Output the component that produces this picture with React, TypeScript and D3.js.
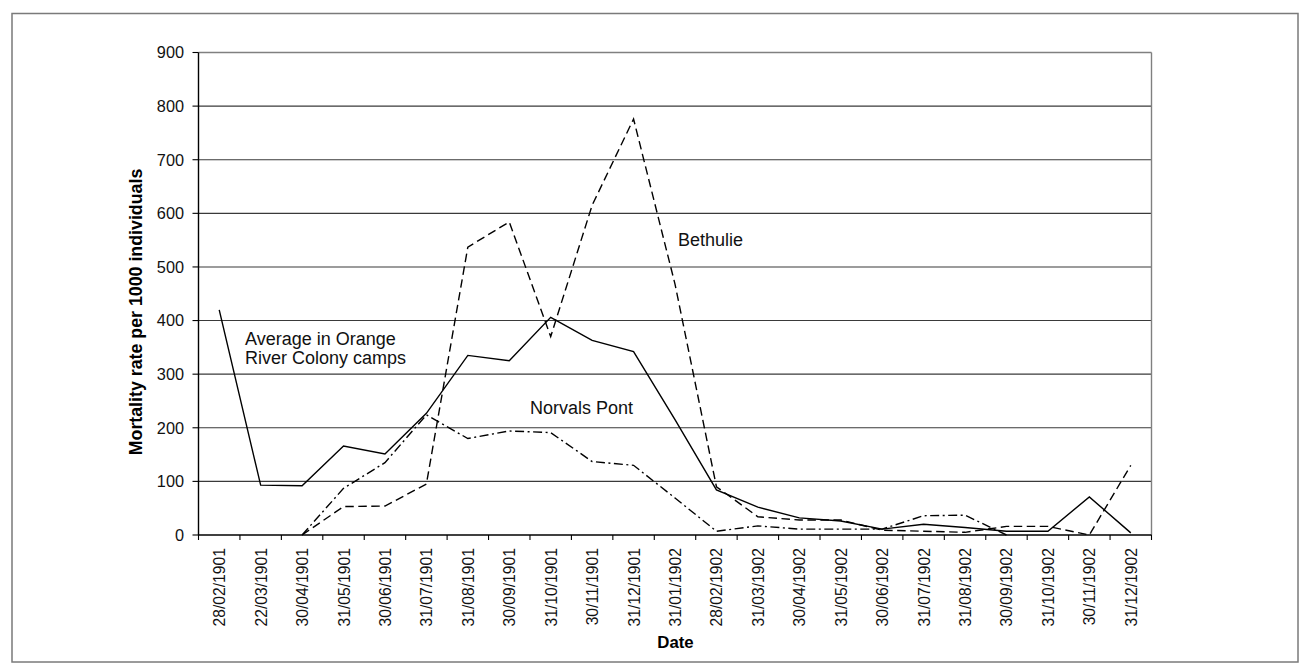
import React from "react";
import * as d3 from "d3";

const dates: string[] = [
  "28/02/1901", "22/03/1901", "30/04/1901", "31/05/1901", "30/06/1901", "31/07/1901",
  "31/08/1901", "30/09/1901", "31/10/1901", "30/11/1901", "31/12/1901", "31/01/1902",
  "28/02/1902", "31/03/1902", "30/04/1902", "31/05/1902", "30/06/1902", "31/07/1902",
  "31/08/1902", "30/09/1902", "31/10/1902", "30/11/1902", "31/12/1902",
];

const averageORC: (number | null)[] = [
  420, 93, 92, 166, 151, 227, 335, 325, 406, 363, 342, 215,
  84, 52, 32, 26, 11, 20, 14, 7, 7, 71, 4,
];

const bethulie: (number | null)[] = [
  null, null, 0, 53, 54, 95, 537, 584, 370, 615, 776, 468,
  90, 34, 28, 28, 9, 7, 5, 16, 16, 0, 130,
];

const norvalsPont: (number | null)[] = [
  null, null, 0, 87, 135, 224, 180, 194, 191, 137, 130, 69,
  7, 17, 11, 11, 11, 36, 37, 0, null, null, null,
];

const yTicks: number[] = [0, 100, 200, 300, 400, 500, 600, 700, 800, 900];

const FONT = "Arial, 'Liberation Sans', Helvetica, sans-serif";

export default function App() {
  const W = 1300;
  const H = 668;
  const left = 198.5;
  const right = 1151.5;
  const top = 52.5;
  const bottom = 535;

  const x = d3.scaleBand<string>().domain(dates).range([left, right]).padding(0);
  const y = d3.scaleLinear().domain([0, 900]).range([bottom, top]);
  const cx = (i: number) => (x(dates[i]) as number) + x.bandwidth() / 2;

  const mkLine = d3
    .line<number | null>()
    .defined((d) => d !== null)
    .x((_, i) => cx(i))
    .y((d) => y(d as number));

  const series = [
    { data: averageORC, dash: "none" },
    { data: bethulie, dash: "8.5,4.5" },
    { data: norvalsPont, dash: "9,3.5,2,3.5" },
  ];

  const boundaries = d3.range(dates.length + 1).map((k) => left + k * x.bandwidth());

  return (
    <svg
      width={W}
      height={H}
      style={{ position: "absolute", left: 0, top: 0, background: "#fff" }}
      fontFamily={FONT}
    >
      <rect x={0} y={0} width={W} height={H} fill="#fff" />
      {/* outer frame */}
      <rect x={12} y={13.5} width={1286} height={648.5} fill="none" stroke="#7a7a7a" strokeWidth={1.5} />

      {/* gridlines */}
      {yTicks.filter((t) => t > 0 && t < 900).map((t) => (
        <line key={"g" + t} x1={left} x2={right} y1={y(t)} y2={y(t)} stroke="#3a3a3a" strokeWidth={1.1} />
      ))}
      {/* plot area border top/right */}
      <line x1={left} x2={right} y1={top} y2={top} stroke="#808080" strokeWidth={1.4} />
      <line x1={right} x2={right} y1={top} y2={bottom} stroke="#808080" strokeWidth={1.4} />

      {/* series */}
      {series.map((s, k) => (
        <path
          key={"s" + k}
          d={mkLine(s.data) || ""}
          fill="none"
          stroke="#000"
          strokeWidth={1.4}
          strokeDasharray={s.dash}
          strokeLinejoin="miter"
        />
      ))}

      {/* axes */}
      <line x1={left} x2={left} y1={top} y2={bottom} stroke="#000" strokeWidth={1.4} />
      <line x1={left} x2={right} y1={bottom} y2={bottom} stroke="#000" strokeWidth={1.4} />
      {yTicks.map((t) => (
        <g key={"yt" + t}>
          <line x1={left - 6} x2={left} y1={y(t)} y2={y(t)} stroke="#000" strokeWidth={1.1} />
          <text
            x={184}
            y={y(t)}
            dy="0.36em"
            textAnchor="end"
            fontSize={16.3}
            fill="#111"
          >
            {t}
          </text>
        </g>
      ))}
      {boundaries.map((bx, k) => (
        <line key={"xt" + k} x1={bx} x2={bx} y1={bottom} y2={bottom + 5} stroke="#000" strokeWidth={1.1} />
      ))}
      {dates.map((d, i) => (
        <text
          key={"xl" + i}
          transform={`translate(${cx(i) + 6},548) rotate(-90)`}
          textAnchor="end"
          fontSize={15.7}
          fill="#111"
        >
          {d}
        </text>
      ))}

      {/* axis titles */}
      <text
        transform={`translate(141.5,312) rotate(-90)`}
        textAnchor="middle"
        fontSize={17.8}
        fontWeight="bold"
        fill="#000"
      >
        Mortality rate per 1000 individuals
      </text>
      <text x={675.5} y={648.3} textAnchor="middle" fontSize={16.8} fontWeight="bold" fill="#000">
        Date
      </text>

      {/* annotations */}
      <text x={245} y={345} fontSize={18} fill="#111">
        Average in Orange
      </text>
      <text x={245} y={363.5} fontSize={18} fill="#111">
        River Colony camps
      </text>
      <text x={530} y={414} fontSize={18} fill="#111">
        Norvals Pont
      </text>
      <text x={678} y={246} fontSize={18} fill="#111">
        Bethulie
      </text>
    </svg>
  );
}
